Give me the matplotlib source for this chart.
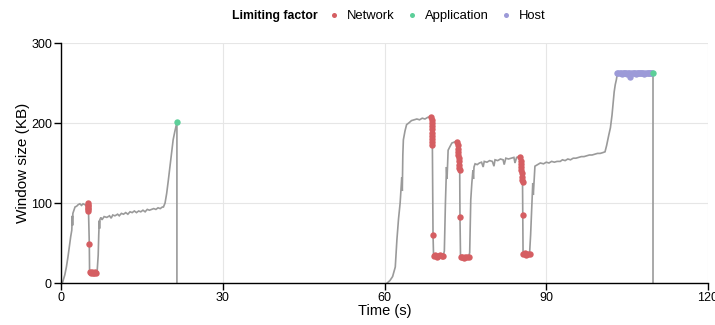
import matplotlib
matplotlib.use("Agg")
import matplotlib.pyplot as plt
from matplotlib.lines import Line2D

plt.rcParams['font.family'] = ['Liberation Sans', 'DejaVu Sans']

# Connection 1: time (s), congestion window (KB), limiting factor per sample
conn1_time = [0.0, 0.3, 0.7, 1.0, 1.3, 1.6, 1.8, 2.0, 2.1, 2.15, 2.2, 2.4, 2.6, 2.9, 3.2, 3.5,
              3.8, 4.1, 4.4, 4.7, 4.9,
              5.0, 5.02, 5.04, 5.06, 5.08, 5.1, 5.25, 5.3, 5.5, 5.7, 5.9, 6.1, 6.3, 6.5,
              6.7, 6.9, 7.0, 7.1, 7.15, 7.2, 7.4, 7.6, 7.8, 8.0, 8.5, 9.0, 9.3, 9.6, 10.0,
              10.5, 10.8, 11.2, 11.6, 12.0, 12.4, 12.8, 13.2, 13.6, 14.0, 14.4, 14.8, 15.2,
              15.6, 16.0, 16.4, 16.8, 17.2, 17.6, 18.0, 18.4, 18.8, 19.0, 19.3, 19.6, 19.9,
              20.2, 20.5, 20.8, 21.1, 21.3, 21.5, 21.5]
conn1_window = [0, 1, 10, 20, 33, 48, 58, 66, 84, 72, 87, 91, 95, 96, 98, 99,
                97, 99, 98, 97, 99,
                100, 98, 96, 94, 92, 90, 49, 14, 13, 14, 12, 13, 14, 13,
                14, 35, 60, 78, 68, 79, 82, 79, 81, 83, 82, 84, 81, 85, 84,
                86, 84, 87, 86, 88, 86, 89, 88, 90, 88, 90, 89, 91,
                89, 92, 91, 92, 93, 92, 94, 93, 95, 95, 100, 112, 128,
                145, 162, 179, 189, 195, 201, 0]
conn1_factor = [''] * 21 + ['Network'] * 14 + [''] * 46 + ['Application', '']

# Connection 2
conn2_time = [60.5, 61.0, 61.5, 62.0, 62.3, 62.6, 62.9, 63.1, 63.2, 63.3, 63.4, 63.5, 63.8,
              64.1, 64.5, 65.0, 65.5, 66.0, 66.5, 67.0, 67.5, 68.0, 68.5,
              68.7, 68.72, 68.74, 68.76, 68.78, 68.8, 68.82, 68.84, 68.86, 68.88, 69.0,
              69.1, 69.4, 69.7, 70.0, 70.3, 70.6, 70.9,
              71.1, 71.3, 71.5, 71.6, 71.8, 72.1, 72.5, 72.9, 73.3,
              73.5, 73.55, 73.6, 73.65, 73.7, 73.75, 73.8, 73.85, 73.9, 73.95, 74.0,
              74.1, 74.4, 74.7, 75.0, 75.3, 75.6,
              75.8, 76.0, 76.2, 76.4, 76.5, 76.6, 76.8, 77.2, 77.6, 78.0, 78.3, 78.5, 79.0,
              79.5, 80.0, 80.3, 80.5, 81.0, 81.5, 82.0, 82.2, 82.5, 83.0, 83.5, 84.0, 84.2,
              84.5, 85.0,
              85.2, 85.25, 85.3, 85.35, 85.4, 85.45, 85.5, 85.55, 85.6, 85.65,
              85.7, 86.0, 86.3, 86.6, 86.9,
              87.1, 87.3, 87.5, 87.6, 87.9, 88.4, 88.9, 89.5, 90.0, 90.5, 91.0, 91.5, 92.0,
              92.6, 93.0, 93.5, 94.0, 94.5, 95.0, 95.5, 96.0, 96.5, 97.0, 97.5, 98.0, 98.5,
              99.0, 99.5, 100.0, 100.5, 100.9, 101.2, 101.6, 101.9, 102.2, 102.4, 102.6,
              102.8, 103.0,
              103.2, 103.4, 103.6, 103.8, 104.0, 104.2, 104.4, 104.6, 104.8, 105.0, 105.2,
              105.4, 105.6, 105.8, 106.0, 106.2, 106.4, 106.6, 106.8, 107.0, 107.2, 107.4,
              107.6, 107.8, 108.0, 108.2, 108.4, 108.6, 108.8, 109.0, 109.2, 109.4, 109.6,
              109.8, 109.8]
conn2_window = [0, 3, 8, 20, 54, 80, 100, 120, 132, 115, 160, 179, 190,
                198, 200, 203, 204, 205, 204, 206, 205, 207, 208,
                207, 204, 200, 196, 192, 188, 184, 180, 176, 172, 60,
                34, 35, 33, 34, 35, 34, 34,
                40, 100, 145, 130, 166, 170, 175, 176, 177,
                176, 172, 168, 164, 160, 156, 152, 148, 144, 141, 82,
                32, 33, 31, 32, 33, 32,
                38, 104, 125, 141, 130, 145, 149, 148, 150, 151, 145, 152, 151,
                153, 152, 146, 154, 153, 155, 154, 148, 156, 155, 156, 157, 150,
                157, 158,
                157, 153, 149, 145, 141, 137, 133, 129, 126, 85,
                36, 37, 35, 36, 36,
                60, 91, 125, 110, 146, 148, 150, 149, 151, 150, 152, 151, 152,
                152, 154, 153, 155, 154, 156, 156, 157, 158, 158, 159, 160, 160,
                161, 162, 162, 163, 164, 172, 185, 194, 210, 225, 239,
                248, 254,
                262, 262, 263, 262, 261, 262, 263, 262, 262, 261, 262,
                262, 258, 262, 263, 262, 262, 261, 262, 263, 262, 262,
                263, 262, 262, 261, 262, 262, 263, 262, 262, 262, 262,
                262, 0]
conn2_factor = ([''] * 23 + ['Network'] * 18 + [''] * 9 + ['Network'] * 17 + [''] * 28
                + ['Network'] * 15 + [''] * 39 + ['Host'] * 33 + ['Application', ''])

factor_names = ['Network', 'Application', 'Host']
factor_colors = {'Network': '#d55e62', 'Application': '#5ccf99', 'Host': '#9c9ad8'}
factor_layer = {'Network': 3, 'Host': 3, 'Application': 4}

x_ticks = [0, 30, 60, 90, 120]
y_ticks = [0, 100, 200, 300]

fig = plt.figure(figsize=(7.15, 3.25), dpi=100)
ax = fig.add_axes([61 / 715, 42 / 325, 647 / 715, 240 / 325])

line_color = '#9a9a9a'
for t, w, f in [(conn1_time, conn1_window, conn1_factor),
                (conn2_time, conn2_window, conn2_factor)]:
    ax.plot(t, w, color=line_color, lw=1.2, zorder=2, solid_joinstyle='miter')
    for name in factor_names:
        xs = [ti for ti, fi in zip(t, f) if fi == name]
        ys = [wi for wi, fi in zip(w, f) if fi == name]
        if xs:
            ax.plot(xs, ys, ls='none', marker='o', ms=4.6, mec='none',
                    color=factor_colors[name], zorder=factor_layer[name])

ax.set_xlim(0, 120)
ax.set_ylim(0, 300)
ax.set_xticks(x_ticks)
ax.set_yticks(y_ticks)
ax.grid(True, color='#e6e6e6', lw=0.8, zorder=0)
ax.set_axisbelow(True)
for side in ['top', 'right']:
    ax.spines[side].set_visible(False)
for side in ['left', 'bottom']:
    ax.spines[side].set_linewidth(1.0)
    ax.spines[side].set_color('black')
ax.tick_params(direction='out', length=5, width=1.0, labelsize=9, pad=1.5, colors='black')
ax.set_xlabel('Time (s)', fontsize=10.5, labelpad=0)
ax.set_ylabel('Window size (KB)', fontsize=11, labelpad=1)
for lbl in ax.get_xticklabels():
    lbl.set_clip_on(False)

# legend across the top
fig.text(275 / 715, 1 - 16 / 325, 'Limiting factor', fontsize=8.8, fontweight='bold',
         ha='center', va='center')
handles = [Line2D([], [], ls='none', marker='o', ms=3.6, mec='none', color=factor_colors[n])
           for n in factor_names]
fig.legend(handles, factor_names, loc='center left', bbox_to_anchor=(329 / 715, 1 - 16 / 325),
           ncol=3, frameon=False, fontsize=9.4, handlelength=0.8, handletextpad=0.6,
           columnspacing=0.9, borderpad=0, borderaxespad=0)

fig.savefig('out.png', dpi=100)
